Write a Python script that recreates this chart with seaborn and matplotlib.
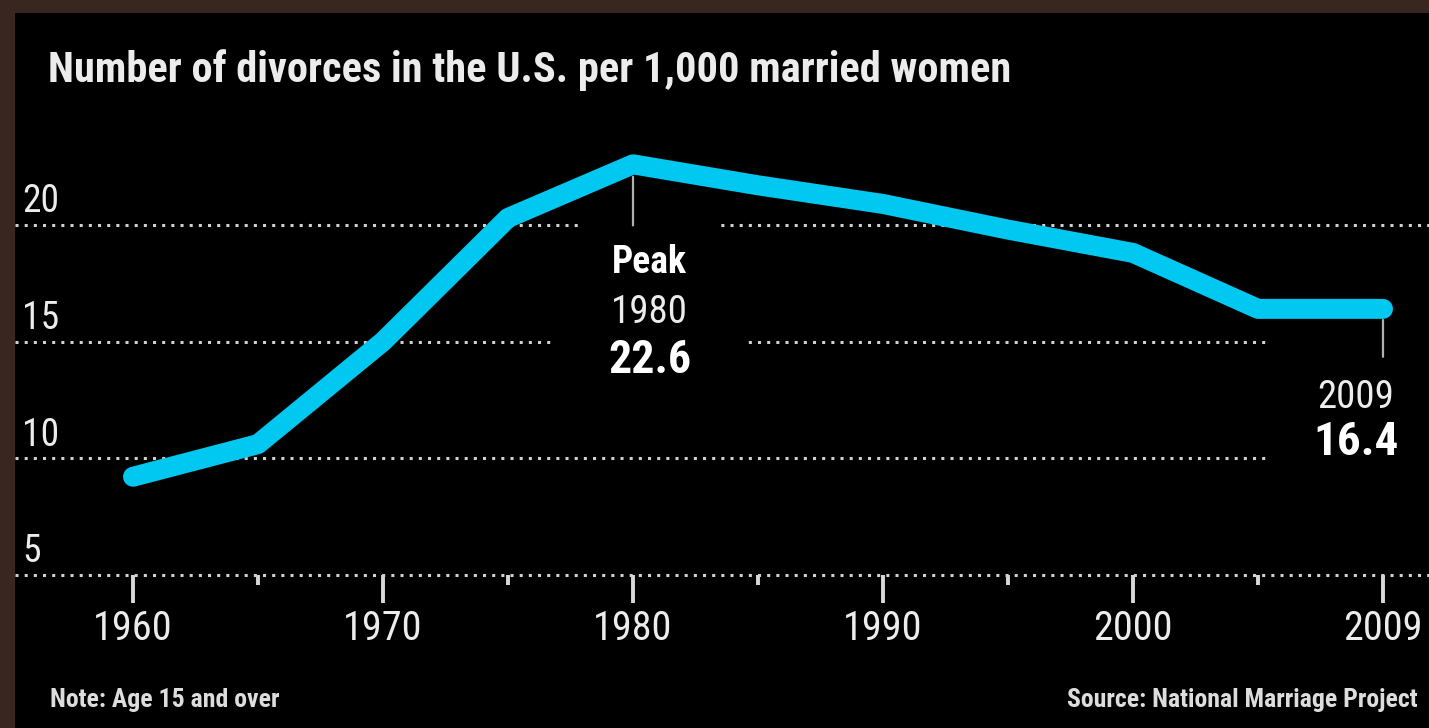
import numpy as np
import pandas as pd
import matplotlib
matplotlib.use("Agg")
import matplotlib.pyplot as plt
from matplotlib import font_manager
from matplotlib.patches import Rectangle
import seaborn as sns

# ---------------- data ----------------
years = [1960, 1965, 1970, 1975, 1980, 1985, 1990, 1995, 2000, 2005, 2009]
divorce_rate = [9.2, 10.6, 15.0, 20.3, 22.6, 21.7, 20.9, 19.8, 18.8, 16.4, 16.4]
major_years = [1960, 1970, 1980, 1990, 2000, 2009]
minor_years = [1965, 1975, 1985, 1995, 2005]
y_ticks = [5, 10, 15, 20]
title = "Number of divorces in the U.S. per 1,000 married women"
note = "Note: Age 15 and over"
source = "Source: National Marriage Project"
peak_word = "Peak"

# ---------------- style ----------------
sns.set_style("dark")
avail = {f.name for f in font_manager.fontManager.ttflist}
base_font = next((f for f in ["Roboto Condensed", "Liberation Sans Narrow", "Roboto"] if f in avail), "DejaVu Sans")
plt.rcParams["font.family"] = [base_font, "DejaVu Sans"]

BROWN = "#3a2620"
CYAN = "#00c8f0"
TXT = "#ececec"
GRID = "#d0d0d0"

W, H, DPI = 1429, 728, 100
fig = plt.figure(figsize=(W / DPI, H / DPI), dpi=DPI, facecolor=BROWN)
fig.add_artist(Rectangle((15 / W, 0), 1 - 15 / W, (H - 13) / H, transform=fig.transFigure,
                         facecolor="black", edgecolor="none", zorder=0))

ax = fig.add_axes([15 / W, (H - 598) / H, 1 - 15 / W, (598 - 140) / H])
ax.set_facecolor("black")

df = pd.DataFrame({"pos": np.arange(len(years)), "rate": divorce_rate, "year": years})
sns.lineplot(data=df, x="pos", y="rate", ax=ax, color=CYAN, linewidth=14.4, zorder=5,
             solid_capstyle="round", solid_joinstyle="round")

ax.set_xlim(-0.944, 10.368)
ax.set_ylim(4.0, 23.643)
ax.set_xlabel("")
ax.set_ylabel("")

# x axis: ticks hang from the 5 line
for s in ax.spines.values():
    s.set_visible(False)
ax.spines["bottom"].set_position(("data", y_ticks[0]))
ax.set_xticks([years.index(y) for y in major_years])
ax.set_xticklabels([str(y) for y in major_years])
ax.set_xticks([years.index(y) for y in minor_years], minor=True)
ax.tick_params(axis="x", which="major", length=20, width=2.8, color="#d8d8d8", pad=5,
               labelsize=29, labelcolor=TXT, bottom=True)
ax.tick_params(axis="x", which="minor", length=7, width=2.8, color="#d8d8d8", bottom=True)

# y grid (dotted) with labels above the lines
ax.set_yticks(y_ticks)
ax.tick_params(axis="y", left=False, labelleft=False)
ax.grid(False)
ax.grid(axis="y", color=GRID, linestyle=(0, (1, 2)), linewidth=2.2)
ax.set_axisbelow(True)
for t in y_ticks:
    ax.annotate(str(t), xy=(0, t), xycoords=("axes fraction", "data"), xytext=(5, 9),
                textcoords="offset points", ha="left", va="baseline", fontsize=27, color=TXT)

# peak annotation
pi = int(np.argmax(divorce_rate))
pv = divorce_rate[pi]
ax.annotate("", xy=(pi, pv), xytext=(0, -44), textcoords="offset points",
            arrowprops=dict(arrowstyle="-", color="#b0b0b0", lw=1.6, shrinkA=0, shrinkB=9), zorder=4)
ax.annotate(peak_word, xy=(pi, pv), xytext=(12, -78.5), textcoords="offset points",
            ha="center", va="baseline", fontsize=27, fontweight="bold", color="white",
            bbox=dict(facecolor="black", edgecolor="none", pad=23), zorder=3)
ax.annotate(f"{pv:.1f}", xy=(pi, pv), xytext=(12, -150.5), textcoords="offset points",
            ha="center", va="baseline", fontsize=33, fontweight="bold", color="white",
            bbox=dict(facecolor="black", edgecolor="none", pad=40), zorder=3)
ax.annotate(str(years[pi]), xy=(pi, pv), xytext=(12, -114.5), textcoords="offset points",
            ha="center", va="baseline", fontsize=28, color=TXT, zorder=3.5)

# last value annotation
li = len(years) - 1
lv = divorce_rate[li]
ax.annotate("", xy=(li, lv), xytext=(0, -34.5), textcoords="offset points",
            arrowprops=dict(arrowstyle="-", color="#b0b0b0", lw=1.6, shrinkA=0, shrinkB=8), zorder=4)
ax.annotate(str(years[li]), xy=(li, lv), xytext=(-19.4, -71.3), textcoords="offset points",
            ha="center", va="baseline", fontsize=28, color=TXT,
            bbox=dict(facecolor="black", edgecolor="none", pad=36), zorder=3)
ax.annotate(f"{lv:.1f}", xy=(li, lv), xytext=(-19.4, -105.3), textcoords="offset points",
            ha="center", va="baseline", fontsize=34, fontweight="bold", color="white", zorder=3.5)

# title and footer
fig.text(48 / W, 1 - 82 / H, title, ha="left", va="baseline", fontsize=30.5,
         fontweight="bold", color=TXT)
fig.text(50 / W, 1 - 707 / H, note, ha="left", va="baseline", fontsize=18.5,
         fontweight="bold", color="#dddddd")
fig.text(1418 / W, 1 - 707 / H, source, ha="right", va="baseline", fontsize=18.5,
         fontweight="bold", color="#dddddd")

fig.savefig("out.png", dpi=DPI, facecolor=BROWN)
